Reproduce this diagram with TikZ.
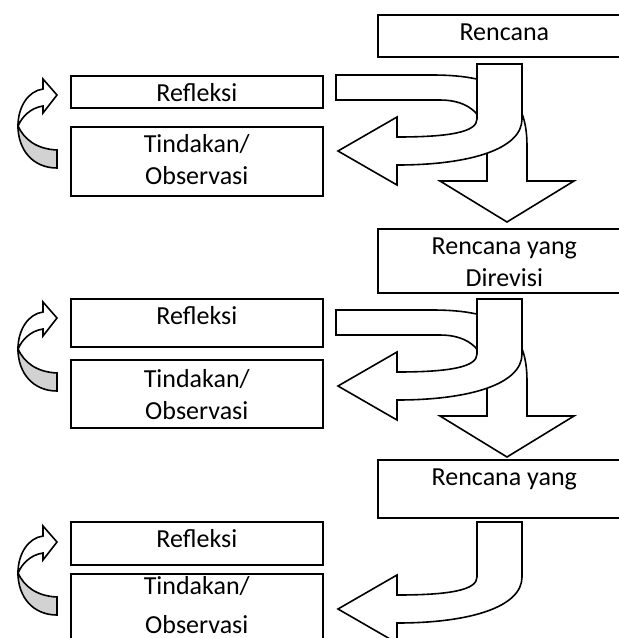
\documentclass[tikz,border=0pt]{standalone}
\usepackage{fontspec}
\setmainfont{Carlito}
\newcommand{\teks}{\fontsize{13}{16}\selectfont}
\tikzset{
  kotak/.style   ={rectangle, draw=black, line width=0.8pt, fill=white,
                   inner sep=0pt, anchor=north west, minimum width=126pt,
                   text height=13pt, font=\teks},
  kanan/.style   ={kotak, minimum width=126.5pt},
  panah/.style   ={draw=black, line width=0.8pt, fill=white, line join=miter},
  panahabu/.style={panah, fill=gray!35},
}

\begin{document}
\begin{tikzpicture}[x=0.5pt, y=-0.5pt]
  \clip (0,0) rectangle (619,638);

  \node[kanan, text depth=8pt]    (rencana1)  at (377,14)  {Rencana};
  \node[kotak, text depth=3pt]    (refleksi1) at (70,75)   {Refleksi};
  \node[kotak, text depth=21.5pt] (tindakan1) at (70,126)
    {\begin{tabular}[t]{@{}c@{}}Tindakan/\\Observasi\end{tabular}};

  \node[kanan, text depth=19pt]   (rencana2)  at (377,228)
    {\begin{tabular}[t]{@{}c@{}}Rencana yang\\Direvisi\end{tabular}};
  \node[kotak, text depth=11pt]   (refleksi2) at (70,298)  {Refleksi};
  \node[kotak, text height=14pt, text depth=20pt] (tindakan2) at (70,359)
    {\begin{tabular}[t]{@{}c@{}}Tindakan/\\Observasi\end{tabular}};

  \node[kanan, text depth=16pt]   (rencana3)  at (377,459) {Rencana yang};
  \node[kotak, text depth=8.5pt]  (refleksi3) at (70,521)  {Refleksi};
  \node[kotak, text height=10.5pt, text depth=30pt] (tindakan3) at (70,573)
    {\begin{tabular}[t]{@{}c@{}}Tindakan/\\[3.5pt]Observasi\end{tabular}};

  % panah lengkung kiri (tindakan -> refleksi)
  \foreach \ty in {95,318,542} {
    \begin{scope}[shift={(0,\ty)}]
      \draw[panahabu] (18,31) .. controls (18,55) and (33,73) .. (57,73) -- (57,55)
        .. controls (36,54) and (24,44) .. (18,31) -- cycle;
      \draw[panah] (18,31) .. controls (18,12) and (28,-4) .. (43,-6) -- (43,-16)
        -- (57,0) -- (43,18) -- (43,11) .. controls (30,13) and (22,22) .. (18,31) -- cycle;
    \end{scope}
  }

  % panah turun (refleksi -> rencana berikutnya)
  \foreach \ty in {64,299} {
    \draw[panah, shift={(0,\ty)}] (336,11) -- (432,11)
      .. controls (500,11) and (527,30) .. (527,82) -- (527,117) -- (574,117)
      -- (507,158) -- (440,117) -- (487,117) -- (487,82)
      .. controls (487,52) and (470,36) .. (440,36) -- (336,36) -- cycle;
  }

  % panah belok (rencana -> tindakan)
  \foreach \ty in {64,299,522} {
    \draw[panah, shift={(0,\ty)}] (477,0) -- (522,0) -- (522,55)
      .. controls (522,85) and (470,101) .. (397,101) -- (397,121) -- (338,87)
      -- (397,53) -- (397,73) .. controls (450,73) and (477,68) .. (477,55) -- cycle;
  }
\end{tikzpicture}
\end{document}
